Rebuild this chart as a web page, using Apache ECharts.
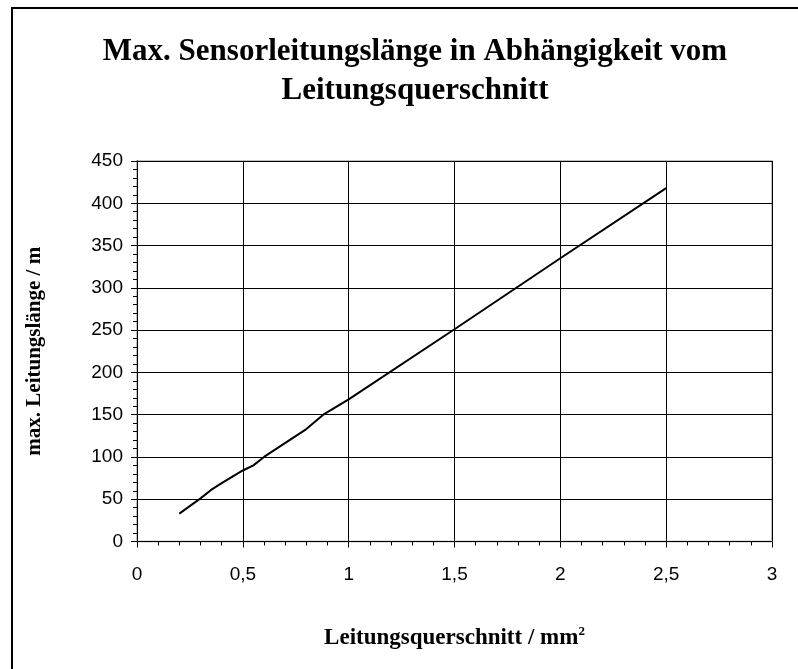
<!DOCTYPE html>
<html>
<head>
<meta charset="utf-8">
<script src="https://cdn.jsdelivr.net/npm/echarts@6/dist/echarts.min.js"></script>
<style>html,body{margin:0;padding:0;background:#fff}#c{width:798px;height:669px}</style>
</head>
<body>
<div id="c"></div>
<script>
// Data
const crossSections = [0.2, 0.3, 0.35, 0.4, 0.5, 0.55, 0.6, 0.8, 0.88, 1, 1.5, 1.75, 2, 2.5];
const maxLengths    = [33, 51, 61, 69, 84, 90, 100, 133, 150, 168, 251, 293, 335, 418];
const xTicks = [0, 0.5, 1, 1.5, 2, 2.5, 3];
const yTicks = [0, 50, 100, 150, 200, 250, 300, 350, 400, 450];

const chart = echarts.init(document.getElementById('c'), null, {renderer: 'canvas'});
const serif = '"Liberation Serif", "Times New Roman", serif';
const sans = '"Liberation Sans", Arial, sans-serif';
chart.setOption({
  animation: false,
  backgroundColor: '#fff',
  graphic: [{
    type: 'rect', shape: {x: 12, y: 8, width: 820, height: 700},
    style: {fill: 'none', stroke: '#000', lineWidth: 2}, silent: true
  }],
  title: {
    text: 'Max. Sensorleitungslänge in Abhängigkeit vom\nLeitungsquerschnitt',
    left: 410, top: 27, textAlign: 'center',
    textStyle: {fontFamily: serif, fontWeight: 'bold', fontSize: 31, lineHeight: 39, color: '#000'}
  },
  grid: {left: 137, top: 161, right: 26, bottom: 127.5, show: true, borderColor: '#c0c0c0', borderWidth: 2, backgroundColor: '#fff'},
  xAxis: {
    type: 'value', min: xTicks[0], max: xTicks[xTicks.length - 1], interval: 0.5,
    axisLine: {show: true, onZero: false, lineStyle: {color: '#000', width: 1}},
    axisTick: {show: true, inside: false, length: 6, lineStyle: {color: '#000'}},
    minorTick: {show: true, splitNumber: 5, length: 4, lineStyle: {color: '#000'}},
    splitLine: {show: true, lineStyle: {color: '#000', width: 1}},
    axisLabel: {margin: 24, fontFamily: sans, fontSize: 19, color: '#000',
      formatter: v => String(v).replace('.', ',')},
    name: '{a|Leitungsquerschnitt / mm}{b|2}',
    nameLocation: 'middle', nameGap: 84,
    nameTextStyle: {
      rich: {
        a: {fontFamily: serif, fontWeight: 'bold', fontSize: 23, color: '#000', lineHeight: 26},
        b: {fontFamily: serif, fontWeight: 'bold', fontSize: 13, color: '#000', verticalAlign: 'top', lineHeight: 26, padding: [0, 0, 18, 0]}
      }
    }
  },
  yAxis: {
    type: 'value', min: yTicks[0], max: yTicks[yTicks.length - 1], interval: 50,
    axisLine: {show: true, onZero: false, lineStyle: {color: '#000', width: 1}},
    axisTick: {show: true, inside: false, length: 6, lineStyle: {color: '#000'}},
    minorTick: {show: true, splitNumber: 5, length: 4, lineStyle: {color: '#000'}},
    splitLine: {show: true, lineStyle: {color: '#000', width: 1}},
    axisLabel: {margin: 14, fontFamily: sans, fontSize: 19, color: '#000'},
    name: 'max. Leitungslänge / m',
    nameLocation: 'middle', nameGap: 92,
    nameTextStyle: {fontFamily: serif, fontWeight: 'bold', fontSize: 21, color: '#000'}
  },
  series: [{
    type: 'line',
    data: crossSections.map((x, i) => [x, maxLengths[i]]),
    showSymbol: false, symbol: 'none',
    lineStyle: {color: '#000', width: 2},
    silent: true
  }]
});
</script>
</body>
</html>
